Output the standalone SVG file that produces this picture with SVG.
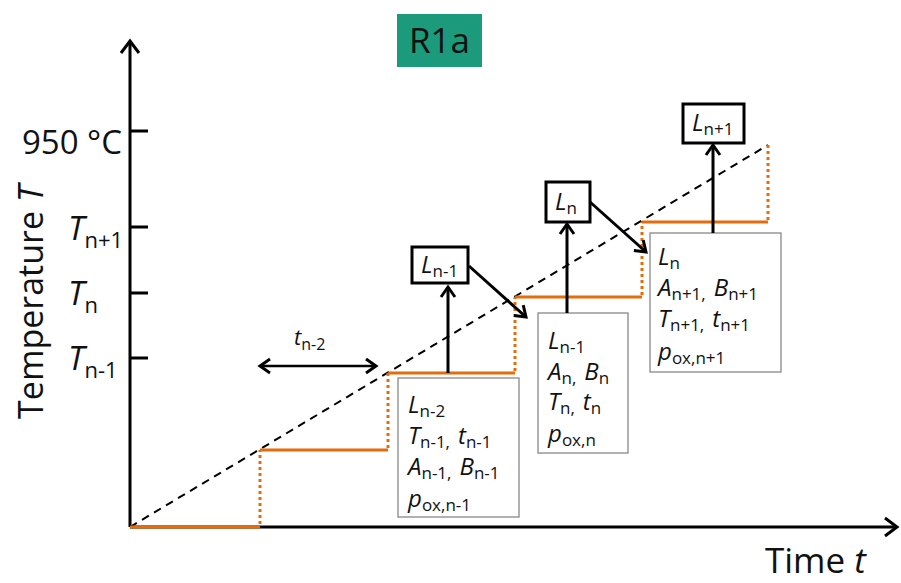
<svg xmlns="http://www.w3.org/2000/svg" width="901" height="583" viewBox="0 0 901 583">
<style>
text{font-family:"Open Sans","Noto Sans","DejaVu Sans",sans-serif;fill:#111}
.i{font-style:italic}
.bx text{font-size:24px}
.s{font-size:17px;font-style:normal}
.ax{stroke:#000;stroke-width:3;fill:none}
.or{stroke:#E46C0A;stroke-width:3;fill:none}
.dot{stroke:#E46C0A;stroke-width:3;stroke-dasharray:3 3;fill:none}
.gb{fill:#fff;stroke:#888;stroke-width:1.3}
.lb{fill:#fff;stroke:#000;stroke-width:3}
.ar{stroke:#000;stroke-width:3;fill:none;marker-end:url(#ah)}
</style>
<defs>
<marker id="ah" markerUnits="userSpaceOnUse" markerWidth="20" markerHeight="20" refX="12" refY="8" orient="auto" viewBox="0 0 20 16">
<path d="M2,1 L12,8 L2,15" fill="none" stroke="#000" stroke-width="3"/>
</marker>
<marker id="ah2" markerUnits="userSpaceOnUse" markerWidth="20" markerHeight="20" refX="8" refY="8" orient="auto" viewBox="0 0 20 16">
<path d="M18,1 L8,8 L18,15" fill="none" stroke="#000" stroke-width="3"/>
</marker>
</defs>
<rect x="0" y="0" width="901" height="583" fill="#fff"/>
<g id="title"><rect x="397" y="14" width="85" height="53" fill="#1b9b7b"/><text x="439.5" y="53" font-size="35" text-anchor="middle">R1a</text></g>
<g id="axes">
<polyline class="ax" points="130,527 130,42"/>
<polyline class="ax" points="130,527 896,527"/>
<path class="ax" d="M121,53 L130,41 L139,53"/>
<path class="ax" d="M885,518 L897,527 L885,536"/>
<path class="ax" d="M130,131 H148 M130,227 H148 M130,293 H148 M130,358 H148"/>
</g>
<g id="axis-labels">
<text x="122" y="154" font-size="33" text-anchor="end">950 °C</text>
<text x="68" y="240" font-size="33"><tspan class="i">T</tspan><tspan font-size="22" dy="8">n+1</tspan></text>
<text x="68" y="305" font-size="33"><tspan class="i">T</tspan><tspan font-size="22" dy="8">n</tspan></text>
<text x="68" y="370" font-size="33"><tspan class="i">T</tspan><tspan font-size="22" dy="8">n-1</tspan></text>
<text transform="translate(43,302) rotate(-90)" font-size="34" text-anchor="middle">Temperature <tspan class="i">T</tspan></text>
<text x="765" y="573" font-size="35">Time <tspan class="i">t</tspan></text>
</g>
<g id="profile">
<line x1="130" y1="527" x2="768" y2="145" stroke="#000" stroke-width="2" stroke-dasharray="8 6"/>
<path class="or" d="M130,527 H260 M260,450 H388 M388,373 H515 M515,297 H642 M642,222 H768"/>
<path class="dot" d="M260,524 V450 M388,448 V373 M515,371 V297 M642,295 V222 M768,220 V145"/>
</g>
<g id="tn2">
<line x1="260" y1="366" x2="376" y2="366" stroke="#000" stroke-width="2.5" marker-end="url(#ah)" marker-start="url(#ah2)"/>
<text x="294" y="345" font-size="22"><tspan class="i">t</tspan><tspan font-size="16" dy="5">n-2</tspan></text>
</g>
<g id="box1" class="bx">
<rect class="gb" x="398" y="378" width="121" height="139"/>
<text x="408" y="413"><tspan class="i">L</tspan><tspan class="s" dy="4">n-2</tspan></text>
<text x="408" y="444"><tspan class="i">T</tspan><tspan class="s" dy="4">n-1,</tspan><tspan class="i" dx="8" dy="-4">t</tspan><tspan class="s" dy="4">n-1</tspan></text>
<text x="408" y="475"><tspan class="i">A</tspan><tspan class="s" dy="4">n-1,</tspan><tspan class="i" dx="8" dy="-4">B</tspan><tspan class="s" dy="4">n-1</tspan></text>
<text x="408" y="507"><tspan class="i">p</tspan><tspan class="s" dy="4">ox,n-1</tspan></text>
</g>
<g id="box2" class="bx">
<rect class="gb" x="538" y="313" width="90" height="140"/>
<text x="548" y="349"><tspan class="i">L</tspan><tspan class="s" dy="4">n-1</tspan></text>
<text x="548" y="380"><tspan class="i">A</tspan><tspan class="s" dy="4">n,</tspan><tspan class="i" dx="8" dy="-4">B</tspan><tspan class="s" dy="4">n</tspan></text>
<text x="548" y="410"><tspan class="i">T</tspan><tspan class="s" dy="4">n,</tspan><tspan class="i" dx="8" dy="-4">t</tspan><tspan class="s" dy="4">n</tspan></text>
<text x="548" y="442"><tspan class="i">p</tspan><tspan class="s" dy="4">ox,n</tspan></text>
</g>
<g id="box3" class="bx">
<rect class="gb" x="650" y="233" width="131" height="139"/>
<text x="658" y="265"><tspan class="i">L</tspan><tspan class="s" dy="4">n</tspan></text>
<text x="658" y="296"><tspan class="i">A</tspan><tspan class="s" dy="4">n+1,</tspan><tspan class="i" dx="8" dy="-4">B</tspan><tspan class="s" dy="4">n+1</tspan></text>
<text x="658" y="327"><tspan class="i">T</tspan><tspan class="s" dy="4">n+1,</tspan><tspan class="i" dx="8" dy="-4">t</tspan><tspan class="s" dy="4">n+1</tspan></text>
<text x="658" y="360"><tspan class="i">p</tspan><tspan class="s" dy="4">ox,n+1</tspan></text>
</g>
<g id="Ln-1" class="bx">
<rect class="lb" x="412" y="247" width="56" height="36"/>
<text x="421" y="273"><tspan class="i">L</tspan><tspan class="s" dy="4">n-1</tspan></text>
</g>
<g id="Ln" class="bx">
<rect class="lb" x="546" y="182" width="44" height="40"/>
<text x="555" y="210"><tspan class="i">L</tspan><tspan class="s" dy="4">n</tspan></text>
</g>
<g id="Ln+1" class="bx">
<rect class="lb" x="683" y="104" width="61" height="39"/>
<text x="692" y="131"><tspan class="i">L</tspan><tspan class="s" dy="4">n+1</tspan></text>
</g>
<g id="connectors">
<line class="ar" x1="448" y1="373" x2="448" y2="287"/>
<line class="ar" x1="567" y1="313" x2="567" y2="224"/>
<line class="ar" x1="713" y1="233" x2="713" y2="145"/>
<line class="ar" x1="469" y1="266" x2="526" y2="317"/>
<line class="ar" x1="590" y1="202" x2="646" y2="252"/>
</g>
</svg>
